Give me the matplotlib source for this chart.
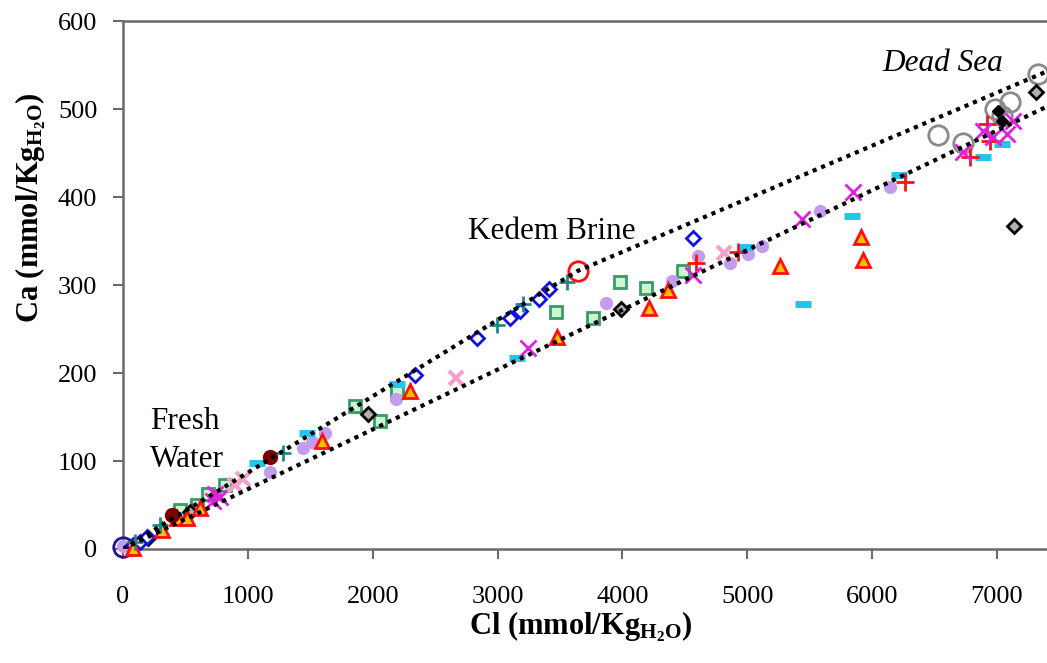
import numpy as np
import matplotlib
matplotlib.use("Agg")
import matplotlib.pyplot as plt

plt.rcParams["font.family"] = ["Liberation Serif", "DejaVu Serif"]
plt.rcParams["mathtext.fontset"] = "custom"
plt.rcParams["mathtext.rm"] = "Liberation Serif"
plt.rcParams["mathtext.bf"] = "Liberation Serif:bold"
plt.rcParams["mathtext.it"] = "Liberation Serif:italic"

# ---------- data (Cl, Ca in mmol/KgH2O) ----------
blue_dia_x = [80, 136, 192, 2338, 2834, 3098, 3178, 3330, 3411, 4563]
blue_dia_y = [5, 8, 14, 198, 240, 263, 270, 284, 295, 354]

teal_plus_x = [96, 296, 1281, 2994, 3203, 3555]
teal_plus_y = [8, 27, 109, 255, 278, 304]

kedem_x = [3640]
kedem_y = [316]

green_sq_x = [456, 592, 681, 817, 1857, 2058, 2194, 3467, 3763, 3979, 4187, 4483]
green_sq_y = [44, 50, 62, 73, 163, 146, 178, 269, 263, 303, 297, 316]

black_dia_x = [200, 536, 1962, 3987, 7134, 7310]
black_dia_y = [13, 42, 154, 273, 367, 520]

black_fill_x = [7006, 7038]
black_fill_y = [498, 486]

purple_x = [0, 1177, 1441, 1513, 1617, 2186, 3867, 4395, 4604, 4860, 5004, 5116, 5580, 6141]
purple_y = [3, 88, 115, 122, 132, 170, 280, 305, 333, 325, 335, 345, 384, 412]

tri_x = [80, 312, 432, 512, 617, 1593, 2298, 3475, 4211, 4364, 5260, 5909, 5925]
tri_y = [1, 22, 35, 35, 47, 123, 180, 241, 274, 294, 322, 355, 329]

cyan_x = [1073, 1473, 2194, 3155, 4990, 5445, 5837, 6213, 6885, 7038]
cyan_y = [98, 132, 187, 217, 343, 279, 378, 425, 446, 460]

magenta_x = [720, 737, 777, 3241, 4566, 5434, 5847, 6725, 6885, 6966, 7078, 7126]
magenta_y = [54, 62, 59, 229, 312, 375, 406, 451, 475, 468, 472, 486]

pink_x = [897, 961, 2666, 4812]
pink_y = [73, 79, 194, 337]

red_plus_x = [4588, 4924, 6261, 6781, 6917, 6941]
red_plus_y = [325, 338, 417, 446, 483, 464]

gray_circ_x = [6525, 6725, 6982, 7038, 7102, 7326]
gray_circ_y = [471, 462, 500, 492, 508, 540]

darkred_x = [392, 1177]
darkred_y = [39, 104]

navy_x = [0]
navy_y = [2]

# mixing lines
upper_line_x = [0, 3640, 7400]
upper_line_y = [0, 316, 543]
lower_line_x = [0, 7400]
lower_line_y = [0, 503]

# ---------- plot ----------
fig = plt.figure(figsize=(10.47, 6.63), dpi=100)
ax = fig.add_axes([0.1175, 0.172, 0.8825, 0.796])

mk = dict(linestyle="none", clip_on=False, zorder=3)
ax.plot(navy_x, navy_y, marker="o", ms=14, mfc="none", mec="#1a1a8c", mew=2, **mk)
ax.plot(gray_circ_x, gray_circ_y, marker="o", ms=14, mfc="none", mec="#8a8a8a", mew=2, **mk)
ax.plot(green_sq_x, green_sq_y, marker="s", ms=9, mfc="#ccf5d0", mec="#3a9a6a", mew=2, **mk)
ax.plot(purple_x, purple_y, marker="o", ms=9.5, mfc="#c39cf0", mec="#c39cf0", mew=0, **mk)
ax.plot(black_dia_x, black_dia_y, marker="D", ms=7, mfc="#b0b0b0", mec="black", mew=2, **mk)
ax.plot(black_fill_x, black_fill_y, marker="D", ms=6, mfc="black", mec="black", mew=1, **mk)
ax.plot(blue_dia_x, blue_dia_y, marker="D", ms=7.5, mfc="white", mec="#1010e0", mew=2, **mk)
ax.plot(tri_x, tri_y, marker="^", ms=10, mfc="#ffc000", mec="#ff1010", mew=2, **mk)
ax.plot(cyan_x, cyan_y, marker="_", ms=12, mec="#22c4f0", mew=5, **mk)
ax.plot(teal_plus_x, teal_plus_y, marker="+", ms=11, mec="#1f8a80", mew=2, **mk)
ax.plot(red_plus_x, red_plus_y, marker="+", ms=13, mec="#ff1010", mew=2, **mk)
ax.plot(magenta_x, magenta_y, marker="x", ms=11, mec="#e020e0", mew=2, **mk)
ax.plot(pink_x, pink_y, marker="x", ms=10, mec="#f4a0c8", mew=3, **mk)
ax.plot(darkred_x, darkred_y, marker="o", ms=10, mfc="#800000", mec="#800000", **mk)
ax.plot(kedem_x, kedem_y, marker="o", ms=14, mfc="none", mec="#ff1010", mew=2, **mk)

ax.plot(upper_line_x, upper_line_y, color="black", lw=3, linestyle=(0, (1, 1.2)), zorder=4)
ax.plot(lower_line_x, lower_line_y, color="black", lw=3, linestyle=(0, (1, 1.2)), zorder=4)

ax.set_xlim(0, 7400)
ax.set_ylim(0, 600)
ax.set_xticks(np.arange(0, 7001, 1000))
ax.set_yticks(np.arange(0, 601, 100))

for side in ["left", "bottom", "top"]:
    ax.spines[side].set_color("#6a6a6a")
    ax.spines[side].set_linewidth(1.8)
ax.spines["right"].set_visible(False)
ax.tick_params(axis="both", direction="out", length=7.5, width=1.5,
               color="#6a6a6a", labelsize=19, labelcolor="black")
ax.tick_params(axis="x", pad=19)
ax.tick_params(axis="y", pad=11)

# annotations
txt = dict(fontsize=22.5, va="baseline", ha="left", zorder=5)
ax.text(2762, 352, "Kedem Brine", **txt)
ax.text(6085, 543, "Dead Sea", style="italic", **txt)
ax.text(216, 136, "Fresh", **txt)
ax.text(216, 93, "Water", **txt)

fig.text(0.555, 0.055, r"Cl (mmol/Kg$\mathbf{_{H_2O}}$)", fontsize=22,
         fontweight="bold", ha="center", va="center")
fig.text(0.029, 0.687, r"Ca (mmol/Kg$\mathbf{_{H_2O}}$)", fontsize=22,
         fontweight="bold", ha="center", va="center", rotation=90)

fig.savefig("out.png", dpi=100)
